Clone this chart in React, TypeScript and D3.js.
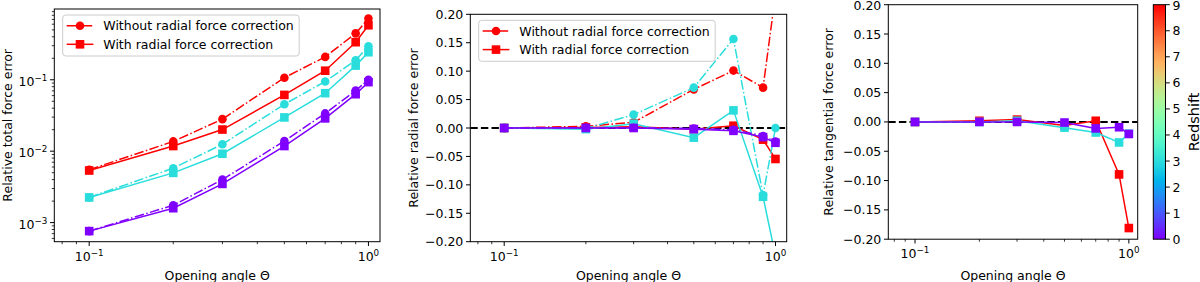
import React from "react";
import * as d3 from "d3";

// Opening angles and redshifts of the three runs (drawn order: z=9, z=3, z=0)
const THETA = [0.1, 0.2, 0.3, 0.5, 0.7, 0.9, 1.0];
const REDSHIFTS = [9, 3, 0];

// Relative total force error (log axis)
const totalWithout = [
  [5.5e-3, 0.0137, 0.0281, 0.107, 0.209, 0.447, 0.72],
  [2.25e-3, 5.78e-3, 0.0125, 0.0454, 0.0946, 0.187, 0.295],
  [7.6e-4, 1.75e-3, 4.0e-3, 0.0139, 0.0338, 0.0706, 0.1],
];
const totalWith = [
  [5.36e-3, 0.0118, 0.0201, 0.0614, 0.134, 0.336, 0.58],
  [2.25e-3, 4.97e-3, 9.2e-3, 0.0297, 0.0649, 0.158, 0.243],
  [7.6e-4, 1.59e-3, 3.48e-3, 0.0118, 0.0288, 0.0628, 0.0927],
];

// Relative radial force error
const radialWithout = [
  [0, 0.003, 0.01, 0.068, 0.101, 0.071, 0.235],
  [0, -0.001, 0.0235, 0.071, 0.1566, -0.118, 0],
  [0, 0.0005, 0.0005, -0.001, -0.003, -0.014, -0.024],
];
const radialWith = [
  [0, 0.001, 0.002, -0.002, 0.004, -0.0205, -0.0545],
  [0, -0.002, 0.0076, -0.017, 0.031, -0.121, -0.225],
  [0, 0, 0, -0.002, -0.005, -0.016, -0.026],
];

// Relative tangential force error
const tangentialWith = [
  [0, 0.002, 0.004, -0.006, 0.002, -0.0895, -0.181],
  [0, 0, 0.002, -0.0097, -0.018, -0.035, -0.02],
  [0, 0, 0, -0.001, -0.011, -0.009, -0.0205],
];

const LEGEND_LABELS = ["Without radial force correction", "With radial force correction"];
const COLORBAR_TICKS = [0, 1, 2, 3, 4, 5, 6, 7, 8, 9];
const LINEAR_TICKS = [-0.2, -0.15, -0.1, -0.05, 0, 0.05, 0.1, 0.15, 0.2];

const FONT = "DejaVu Sans";
const FS = 12.5;
const X_DOMAIN: [number, number] = [0.075, 1.1];
const Z_MAX = 9;

// matplotlib "rainbow" colormap
function rainbow(t: number) {
  const r = Math.min(1, Math.abs(2 * t - 0.5));
  const g = Math.max(0, Math.sin(Math.PI * t));
  const b = Math.max(0, Math.cos((Math.PI * t) / 2));
  return d3.rgb(r * 255, g * 255, b * 255).formatHex();
}

const fmtLinear = d3.format(".2f");

function Pow10({ x, y, exp, anchor }: { x: number; y: number; exp: number; anchor: string }) {
  const e = exp < 0 ? `\u2212${-exp}` : `${exp}`;
  return (
    <text x={x} y={y} textAnchor={anchor} fontSize={FS} fontFamily={FONT}>
      10
      <tspan dy={-5} fontSize={FS * 0.7}>
        {e}
      </tspan>
    </text>
  );
}

interface PanelProps {
  id: string;
  left: number;
  top: number;
  right: number;
  bottom: number;
  logY: boolean;
  yDomain: [number, number];
  ylabel: string;
  ylabelX: number;
  circles: number[][] | null;
  squares: number[][];
  legend: boolean;
  zeroLine: boolean;
}

const Panel: React.FC<PanelProps> = (p) => {
  const x = d3.scaleLog().domain(X_DOMAIN).range([p.left, p.right]);
  const y = p.logY
    ? d3.scaleLog().domain(p.yDomain).range([p.bottom, p.top])
    : d3.scaleLinear().domain(p.yDomain).range([p.bottom, p.top]);

  const xTicks = x.ticks();
  const isMajor = (v: number) => Math.abs(Math.log10(v) - Math.round(Math.log10(v))) < 1e-9;

  const line = d3
    .line<number>()
    .x((_, i) => x(THETA[i]))
    .y((d) => y(d));

  const ms = 4.3; // half marker size
  const lw = 1.5;
  const dashDot = `${6.4 * lw},${1.6 * lw},${1 * lw},${1.6 * lw}`;

  const series: React.ReactNode[] = [];
  REDSHIFTS.forEach((z, k) => {
    const c = rainbow(z / Z_MAX);
    if (p.circles) {
      series.push(
        <g key={`c${k}`}>
          <path d={line(p.circles[k]) || ""} fill="none" stroke={c} strokeWidth={lw} strokeDasharray={dashDot} />
          {p.circles[k].map((v, i) => (
            <circle key={i} cx={x(THETA[i])} cy={y(v)} r={ms} fill={c} />
          ))}
        </g>
      );
    }
    series.push(
      <g key={`s${k}`}>
        <path d={line(p.squares[k]) || ""} fill="none" stroke={c} strokeWidth={lw} />
        {p.squares[k].map((v, i) => (
          <rect key={i} x={x(THETA[i]) - ms} y={y(v) - ms} width={2 * ms} height={2 * ms} fill={c} />
        ))}
      </g>
    );
  });

  let yTickEls: React.ReactNode[] = [];
  if (p.logY) {
    const yt = (y as d3.ScaleLogarithmic<number, number>).ticks();
    yTickEls = yt.map((v, i) => {
      const maj = isMajor(v);
      const py = y(v);
      return (
        <g key={i}>
          <line x1={p.left} x2={p.left - (maj ? 4.3 : 2.5)} y1={py} y2={py} stroke="#000" strokeWidth={maj ? 1 : 0.8} />
          {maj && <Pow10 x={p.left - 7} y={py + 6} exp={Math.round(Math.log10(v))} anchor="end" />}
        </g>
      );
    });
  } else {
    yTickEls = LINEAR_TICKS.map((v, i) => {
      const py = y(v);
      return (
        <g key={i}>
          <line x1={p.left} x2={p.left - 4.3} y1={py} y2={py} stroke="#000" strokeWidth={1} />
          <text x={p.left - 7} y={Math.max(py, 5.2)} dy="0.36em" textAnchor="end" fontSize={FS} fontFamily={FONT}>
            {fmtLinear(Math.abs(v) < 1e-9 ? 0 : v)}
          </text>
        </g>
      );
    });
  }

  const lx = p.left + 8.4;
  const ly = p.top + 6;
  const red = rainbow(1);

  return (
    <g>
      <defs>
        <clipPath id={p.id}>
          <rect x={p.left} y={p.top} width={p.right - p.left} height={p.bottom - p.top} />
        </clipPath>
      </defs>
      <g clipPath={`url(#${p.id})`}>
        {p.zeroLine && (
          <line x1={p.left} x2={p.right} y1={y(0)} y2={y(0)} stroke="#000" strokeWidth={2} strokeDasharray="7.4,3.2" />
        )}
        {series}
      </g>
      <rect x={p.left} y={p.top} width={p.right - p.left} height={p.bottom - p.top} fill="none" stroke="#000" strokeWidth={1} />
      {xTicks.map((v, i) => {
        const maj = isMajor(v);
        const px = x(v);
        return (
          <g key={i}>
            <line x1={px} x2={px} y1={p.bottom} y2={p.bottom + (maj ? 4.3 : 2.5)} stroke="#000" strokeWidth={maj ? 1 : 0.8} />
            {maj && <Pow10 x={px} y={p.bottom + 19} exp={Math.round(Math.log10(v))} anchor="middle" />}
          </g>
        );
      })}
      {yTickEls}
      <text x={(p.left + p.right) / 2} y={279.5} textAnchor="middle" fontSize={FS} fontFamily={FONT}>
        Opening angle Θ
      </text>
      <text
        transform={`translate(${p.left + p.ylabelX}, ${(p.top + p.bottom) / 2}) rotate(-90)`}
        textAnchor="middle"
        fontSize={FS}
        fontFamily={FONT}
      >
        {p.ylabel}
      </text>
      {p.legend && (
        <g>
          <rect x={lx} y={ly} width={236.5} height={41} rx={3} fill="#fff" fillOpacity={0.8} stroke="#ccc" strokeWidth={1} />
          {LEGEND_LABELS.map((lab, i) => {
            const ry = ly + 10.7 + i * 18.6;
            return (
              <g key={i}>
                <line
                  x1={lx + 4}
                  x2={lx + 30.7}
                  y1={ry}
                  y2={ry}
                  stroke={red}
                  strokeWidth={lw}
                  strokeDasharray={i === 0 ? dashDot : undefined}
                />
                {i === 0 ? (
                  <circle cx={lx + 17.3} cy={ry} r={ms} fill={red} />
                ) : (
                  <rect x={lx + 17.3 - ms} y={ry - ms} width={2 * ms} height={2 * ms} fill={red} />
                )}
                <text x={lx + 40.6} y={ry} dy="0.36em" fontSize={FS} fontFamily={FONT}>
                  {lab}
                </text>
              </g>
            );
          })}
        </g>
      )}
    </g>
  );
};

const Colorbar: React.FC<{ left: number; right: number; top: number; bottom: number }> = ({ left, right, top, bottom }) => {
  const s = d3.scaleLinear().domain([0, Z_MAX]).range([bottom, top]);
  const stops = d3.range(0, 1.0001, 0.05);
  return (
    <g>
      <defs>
        <linearGradient id="cbar" x1="0" y1="1" x2="0" y2="0">
          {stops.map((t, i) => (
            <stop key={i} offset={t} stopColor={rainbow(t)} />
          ))}
        </linearGradient>
      </defs>
      <rect x={left} y={top} width={right - left} height={bottom - top} fill="url(#cbar)" stroke="#000" strokeWidth={1} />
      {COLORBAR_TICKS.map((v) => (
        <g key={v}>
          <line x1={right} x2={right + 4.3} y1={s(v)} y2={s(v)} stroke="#000" strokeWidth={1} />
          <text x={right + 7} y={Math.max(s(v), 5.2)} dy="0.36em" fontSize={FS} fontFamily={FONT}>
            {v}
          </text>
        </g>
      ))}
      <text
        transform={`translate(${right + 33.5}, ${(top + bottom) / 2}) rotate(-90)`}
        textAnchor="middle"
        fontSize={14.5}
        fontFamily={FONT}
      >
        Redshift
      </text>
    </g>
  );
};

export default function App() {
  return (
    <svg
      width={1200}
      height={282}
      style={{ position: "absolute", left: 0, top: 0, background: "#fff" }}
    >
      <rect width={1200} height={282} fill="#fff" />
      <Panel
        id="clip1"
        left={54.3}
        top={9}
        right={380}
        bottom={241.7}
        logY={true}
        yDomain={[5.4e-4, 0.98]}
        ylabel="Relative total force error"
        ylabelX={-42.8}
        circles={totalWithout}
        squares={totalWith}
        legend={true}
        zeroLine={false}
      />
      <Panel
        id="clip2"
        left={470.3}
        top={14.3}
        right={786.7}
        bottom={241.7}
        logY={false}
        yDomain={[-0.2, 0.2]}
        ylabel="Relative radial force error"
        ylabelX={-52.5}
        circles={radialWithout}
        squares={radialWith}
        legend={true}
        zeroLine={true}
      />
      <Panel
        id="clip3"
        left={888.3}
        top={4.7}
        right={1137.7}
        bottom={239.2}
        logY={false}
        yDomain={[-0.2, 0.2]}
        ylabel="Relative tangential force error"
        ylabelX={-55.5}
        circles={null}
        squares={tangentialWith}
        legend={false}
        zeroLine={true}
      />
      <Colorbar left={1153.3} right={1165.5} top={4.7} bottom={239.2} />
    </svg>
  );
}
